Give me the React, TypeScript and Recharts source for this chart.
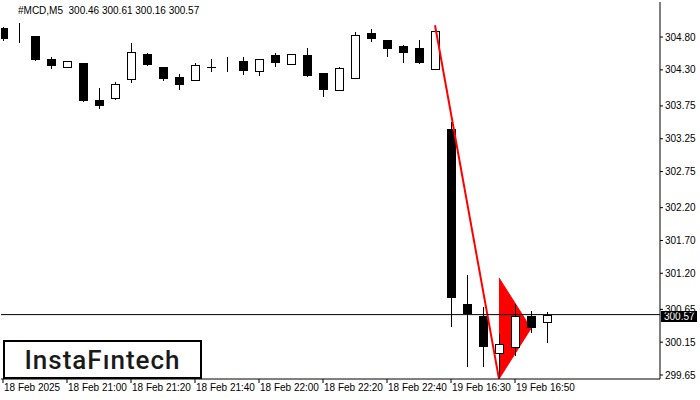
import React from 'react';
import {
  ComposedChart,
  Bar,
  Line,
  Area,
  XAxis,
  YAxis,
  ReferenceLine,
} from 'recharts';

// M5 candles, 18 Feb 20:40 .. 19 Feb 16:50
const opens = [
  304.94, 304.74, 304.82, 304.46, 304.34, 304.40, 303.84, 303.87, 304.16, 304.54,
  304.34, 304.19, 304.14, 304.35, 304.42, 304.43, 304.28, 304.53, 304.39, 304.53,
  304.25, 303.99, 304.17, 304.86, 304.75, 304.66, 304.63, 304.31, 303.40, 300.73,
  300.55, 299.99, 300.07, 300.55, 300.46,
];
const highs = [
  304.95, 305.01, 304.82, 304.50, 304.43, 304.40, 304.02, 304.11, 304.71, 304.56,
  304.34, 304.24, 304.40, 304.46, 304.50, 304.50, 304.46, 304.56, 304.54, 304.63,
  304.25, 304.34, 304.88, 304.92, 304.75, 304.68, 304.75, 304.90, 303.50, 301.17,
  300.68, 300.27, 300.73, 300.62, 300.61,
];
const lows = [
  304.76, 304.73, 304.45, 304.33, 304.34, 303.82, 303.72, 303.85, 304.11, 304.37,
  304.14, 304.01, 304.14, 304.28, 304.28, 304.24, 304.22, 304.36, 304.39, 304.21,
  303.90, 303.99, 304.17, 304.74, 304.51, 304.42, 304.40, 304.31, 300.39, 299.78,
  299.78, 299.60, 299.95, 300.30, 300.16,
];
const closes = [
  304.77, 304.74, 304.45, 304.36, 304.43, 303.82, 303.75, 304.08, 304.57, 304.37,
  304.16, 304.07, 304.37, 304.34, 304.42, 304.28, 304.46, 304.40, 304.54, 304.21,
  303.99, 304.33, 304.83, 304.77, 304.62, 304.56, 304.40, 304.89, 300.82, 300.58,
  300.07, 300.12, 300.55, 300.36, 300.57,
];

const timeTicks = [0, 4, 8, 12, 16, 20, 24, 28, 32];
const timeLabels = [
  '18 Feb 2025', '18 Feb 21:00', '18 Feb 21:20', '18 Feb 21:40', '18 Feb 22:00',
  '18 Feb 22:20', '18 Feb 22:40', '19 Feb 16:30', '19 Feb 16:50',
];
const priceTicks = [304.8, 304.3, 303.75, 303.25, 302.75, 302.2, 301.7, 301.2, 300.65, 300.15, 299.65];

// pole of the bearish pennant
const poleIdx = [27, 31];
const poleVals = [304.98, 299.59];
// pennant triangle
const flagIdx = [31, 33];
const flagLow = [299.59, 300.36];
const flagHigh = [301.13, 300.36];

const lastPrice = 300.57;

const data = opens.map((o, i) => {
  const p = poleIdx.indexOf(i);
  const f = flagIdx.indexOf(i);
  return {
    i,
    open: o,
    high: highs[i],
    low: lows[i],
    close: closes[i],
    pole: p >= 0 ? poleVals[p] : null,
    flag: f >= 0 ? [flagLow[f], flagHigh[f]] : null,
  };
});

const font = '"Liberation Sans", Arial, sans-serif';

const Candle = (props: any) => {
  const { x, y, width, height, payload } = props;
  const { open, close, high, low } = payload;
  const cx = Math.round(x + width / 2);
  const k = height / (high - low);
  const yOf = (v: number) => y + (high - v) * k;
  const top = Math.round(yOf(Math.max(open, close)));
  const bot = Math.round(yOf(Math.min(open, close)));
  const up = close >= open;
  return (
    <g>
      <line x1={cx + 0.5} x2={cx + 0.5} y1={Math.round(y)} y2={Math.round(y + height) + 1} stroke="#000" strokeWidth={1} />
      {up ? (
        <rect x={cx - 4 + 0.5} y={top + 0.5} width={8} height={Math.max(bot - top, 0)} fill="#fff" stroke="#000" strokeWidth={1} />
      ) : (
        <rect x={cx - 4} y={top} width={9} height={Math.max(bot - top, 1)} fill="#000" />
      )}
    </g>
  );
};

const TimeTick = (props: any) => {
  const { x, y, payload } = props;
  const n = timeTicks.indexOf(payload.value);
  return (
    <text x={x + 1} y={y} dy="0.71em" textAnchor="start" fontSize={10} fontFamily={font} fill="#000">
      {n >= 0 ? timeLabels[n] : ''}
    </text>
  );
};

const PriceTag = (props: any) => {
  const { viewBox } = props;
  const x = viewBox.x + viewBox.width + 1;
  const y = Math.round(viewBox.y);
  return (
    <g>
      <rect x={x} y={y - 4} width={36} height={11} fill="#000" />
      <text x={x + 3} y={y + 1.5} dy="0.355em" fontSize={10} fontFamily={font} fill="#fff">
        {lastPrice.toFixed(2)}
      </text>
    </g>
  );
};

export default function App() {
  return (
    <div style={{ position: 'fixed', left: 0, top: 0, width: 700, height: 400, background: '#fff' }}>
      <ComposedChart
        width={700}
        height={400}
        data={data}
        margin={{ top: 2, right: 0, left: 1, bottom: 0 }}
      >
        <XAxis
          dataKey="i"
          type="number"
          domain={[-0.125, 41.0625]}
          ticks={timeTicks}
          allowDataOverflow
          height={21}
          tickSize={4}
          tickMargin={1}
          tick={<TimeTick />}
          axisLine={{ stroke: '#000' }}
          tickLine={{ stroke: '#000' }}
          interval={0}
        />
        <XAxis xAxisId="frame" orientation="top" height={0} tick={false} tickLine={false} axisLine={{ stroke: '#000' }} />
        <YAxis
          orientation="right"
          type="number"
          domain={[299.589, 305.334]}
          ticks={priceTicks}
          allowDataOverflow
          width={40}
          tickSize={3}
          tickMargin={2}
          tickFormatter={(v: number) => v.toFixed(2)}
          tick={{ fontSize: 10, fontFamily: font, fill: '#000' }}
          axisLine={{ stroke: '#000' }}
          tickLine={{ stroke: '#000' }}
          interval={0}
        />
        <YAxis yAxisId="frame" orientation="left" width={0} tick={false} tickLine={false} axisLine={{ stroke: '#000' }} />
        <Area
          dataKey="flag"
          type="linear"
          connectNulls
          fill="#ff0000"
          fillOpacity={1}
          stroke="#ff0000"
          dot={false}
          activeDot={false}
          isAnimationActive={false}
        />
        <Bar
          dataKey={(d: any) => [d.low, d.high]}
          barSize={9}
          shape={<Candle />}
          isAnimationActive={false}
        />
        <Line
          dataKey="pole"
          type="linear"
          connectNulls
          stroke="#ff0000"
          strokeWidth={2}
          dot={false}
          activeDot={false}
          isAnimationActive={false}
        />
        <ReferenceLine y={lastPrice} stroke="#000" strokeWidth={1} label={<PriceTag />} />
      </ComposedChart>
      <div
        style={{
          position: 'absolute',
          left: 18,
          top: 4,
          fontSize: 10,
          fontFamily: font,
          color: '#000',
          whiteSpace: 'pre',
          lineHeight: '14px',
        }}
      >
        {'#MCD,M5  300.46 300.61 300.16 300.57'}
      </div>
      <div
        style={{
          position: 'absolute',
          left: 3,
          top: 340,
          width: 195,
          height: 35,
          border: '2px solid #000',
          background: '#fff',
          display: 'flex',
          alignItems: 'center',
          justifyContent: 'center',
          fontFamily: 'Roboto, sans-serif',
          fontSize: 26,
          fontWeight: 500,
          letterSpacing: 1,
          color: '#1a1a1a',
        }}
      >
        InstaFıntech
      </div>
    </div>
  );
}
